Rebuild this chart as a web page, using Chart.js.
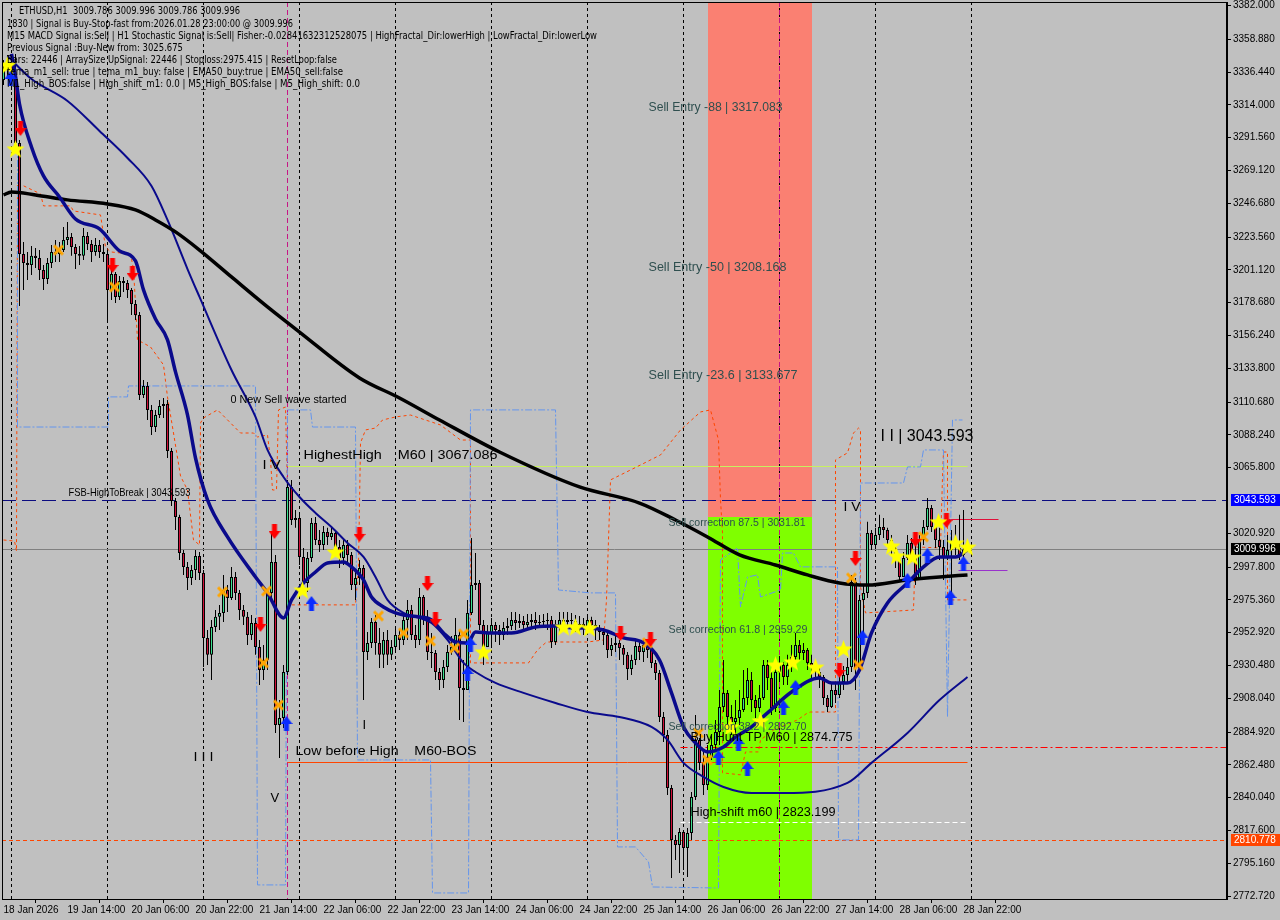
<!DOCTYPE html>
<html>
<head>
<meta charset="utf-8">
<script src="https://cdn.jsdelivr.net/npm/chart.js"></script>
<style>
  body { margin: 0; background: #c0c0c0; }
</style>
</head>
<body>
<canvas id="chart" width="1280" height="920"></canvas>
<script>
// ---- ETHUSD H1 candles (bar 0 = 18 Jan 22:00) ----
const firstOpen = 3331.1;
const closes = [
  3337.9, 3341.3, 3334.5, 3288.0, 3212.0, 3205.8, 3204.5, 3210.7, 3209.3, 3201.1,
  3194.9, 3205.8, 3213.3, 3212.0, 3214.7, 3221.6, 3223.6, 3216.8, 3212.0, 3210.7,
  3224.3, 3218.8, 3213.3, 3218.2, 3213.3, 3212.0, 3187.4, 3198.3, 3182.6, 3193.5,
  3192.2, 3187.4, 3177.8, 3170.3, 3115.5, 3121.7, 3105.3, 3093.6, 3101.8, 3108.0,
  3109.4, 3077.2, 3043.0, 3032.1, 3007.4, 2997.9, 2990.3, 2995.8, 3005.4, 2993.7,
  2949.3, 2937.7, 2956.8, 2963.7, 2966.4, 2982.1, 2976.6, 2991.0, 2980.1, 2968.4,
  2963.7, 2951.3, 2959.5, 2943.1, 2927.4, 2934.2, 2980.1, 3001.3, 2889.7, 2894.5,
  2926.0, 3052.6, 3030.0, 3031.4, 3004.7, 2986.9, 3004.0, 3028.0, 3016.3, 3012.9,
  3021.8, 3018.4, 3021.1, 3011.5, 3004.0, 3012.9, 3006.1, 2985.5, 2990.3, 2997.2,
  2939.7, 2945.9, 2960.2, 2945.9, 2937.7, 2947.9, 2937.7, 2943.1, 2951.3, 2947.9,
  2961.6, 2968.4, 2951.3, 2947.9, 2977.3, 2963.7, 2939.7, 2939.0, 2926.0, 2920.5,
  2929.4, 2939.7, 2943.1, 2951.3, 2915.1, 2913.7, 2966.4, 2985.5, 2986.9, 2958.2,
  2943.1, 2952.7, 2958.2, 2954.7, 2951.3, 2956.1, 2957.5, 2961.6, 2959.5, 2960.9,
  2958.2, 2960.2, 2961.6, 2959.5, 2960.2, 2960.9, 2961.6, 2946.5, 2957.5, 2961.6,
  2960.2, 2961.6, 2960.9, 2958.2, 2958.9, 2956.8, 2961.6, 2958.2, 2954.7, 2953.4,
  2951.3, 2941.1, 2944.5, 2945.9, 2942.4, 2937.7, 2928.1, 2934.2, 2943.8, 2939.7,
  2944.5, 2941.1, 2932.2, 2925.3, 2895.2, 2882.9, 2846.7, 2811.1, 2807.6, 2816.5,
  2805.6, 2815.9, 2840.5, 2879.5, 2863.8, 2848.7, 2867.9, 2876.1, 2885.0, 2902.1,
  2911.7, 2895.2, 2891.8, 2894.5, 2900.0, 2908.2, 2920.5, 2906.8, 2901.4, 2908.2,
  2930.8, 2921.9, 2901.4, 2926.0, 2930.8, 2922.6, 2930.8, 2936.3, 2944.5, 2939.0,
  2941.1, 2932.2, 2929.4, 2926.0, 2922.6, 2908.2, 2902.1, 2913.7, 2910.3, 2919.2,
  2924.0, 2929.4, 2987.6, 2928.8, 2975.3, 2980.1, 3021.1, 3012.9, 3019.8, 3025.2,
  3023.2, 3016.3, 3010.9, 3002.6, 2991.0, 3004.0, 3014.3, 3006.1, 2989.0, 3016.3,
  3025.2, 3038.2, 3025.2, 3016.3, 3011.5, 3004.7, 3009.5, 3015.0, 3010.9, 3006.1,
  3009.786, 3009.996
];
const highs = [
  3344.7, 3348.2, 3346.1, 3348.9, 3290.0, 3220.2, 3213.3, 3217.5, 3216.1, 3214.7,
  3204.5, 3209.3, 3218.2, 3221.6, 3220.2, 3230.5, 3233.9, 3226.4, 3218.8, 3217.5,
  3229.8, 3227.1, 3221.6, 3222.9, 3221.6, 3218.8, 3214.7, 3202.4, 3199.7, 3196.9,
  3196.3, 3194.2, 3188.7, 3180.5, 3172.3, 3125.8, 3124.4, 3108.7, 3105.3, 3112.1,
  3113.5, 3112.1, 3079.3, 3045.1, 3033.5, 3009.5, 3001.3, 2999.2, 3009.5, 3008.1,
  2995.8, 2954.7, 2961.6, 2968.4, 2971.9, 2992.4, 2985.5, 2997.9, 2994.4, 2982.1,
  2971.9, 2967.1, 2965.0, 2963.0, 2947.9, 2944.5, 2982.1, 3021.1, 3006.1, 2906.8,
  2930.8, 3057.4, 3057.4, 3036.9, 3035.5, 3010.9, 3008.1, 3031.4, 3032.1, 3023.2,
  3025.9, 3024.6, 3024.6, 3021.8, 3016.3, 3016.3, 3016.3, 3008.1, 2995.8, 3002.6,
  2999.2, 2953.4, 2963.0, 2965.0, 2956.1, 2953.4, 2954.7, 2947.9, 2956.1, 2954.7,
  2967.1, 2975.3, 2971.9, 2958.2, 2983.5, 2978.7, 2968.4, 2952.7, 2941.1, 2928.8,
  2934.2, 2944.5, 2950.6, 2963.0, 2954.7, 2934.2, 2975.3, 3017.7, 3007.4, 2989.0,
  2961.6, 2958.2, 2963.0, 2960.2, 2958.2, 2960.2, 2963.0, 2967.1, 2967.1, 2965.7,
  2964.3, 2965.7, 2965.7, 2967.1, 2965.0, 2965.7, 2966.4, 2964.3, 2961.6, 2967.1,
  2967.1, 2967.1, 2966.4, 2965.0, 2964.3, 2963.0, 2965.0, 2963.7, 2961.6, 2958.2,
  2956.1, 2953.4, 2949.3, 2950.6, 2947.9, 2944.5, 2939.7, 2937.7, 2947.9, 2946.5,
  2947.9, 2945.9, 2942.4, 2934.2, 2927.4, 2898.6, 2886.3, 2848.7, 2814.5, 2819.3,
  2817.9, 2819.3, 2843.9, 2896.6, 2880.9, 2871.3, 2876.1, 2882.9, 2893.2, 2913.7,
  2934.2, 2913.7, 2903.4, 2906.8, 2913.7, 2927.4, 2928.8, 2926.0, 2910.3, 2917.1,
  2934.2, 2934.2, 2926.0, 2930.8, 2935.6, 2932.9, 2937.7, 2944.5, 2952.7, 2947.9,
  2945.9, 2942.4, 2937.7, 2932.9, 2928.8, 2924.0, 2910.3, 2918.5, 2919.2, 2923.3,
  2930.1, 2935.6, 2992.4, 2990.3, 2978.7, 2985.5, 3028.7, 3023.2, 3024.6, 3033.5,
  3031.4, 3024.6, 3019.8, 3012.9, 3006.1, 3008.1, 3019.8, 3017.7, 3015.0, 3019.8,
  3030.0, 3045.1, 3040.3, 3030.0, 3024.6, 3016.3, 3019.8, 3023.2, 3026.6, 3033.5,
  3036.9, 3009.996
];
const lows = [
  3327.6, 3332.4, 3324.2, 3286.6, 3176.4, 3187.4, 3194.2, 3197.6, 3202.4, 3194.2,
  3187.4, 3191.5, 3202.4, 3206.5, 3206.5, 3213.3, 3218.2, 3210.7, 3201.7, 3204.5,
  3207.9, 3214.7, 3206.5, 3210.7, 3209.3, 3206.5, 3165.5, 3180.5, 3178.5, 3180.5,
  3186.0, 3181.9, 3170.3, 3166.9, 3112.1, 3113.5, 3098.4, 3088.2, 3090.2, 3099.8,
  3099.8, 3072.4, 3039.6, 3023.2, 3002.6, 2992.4, 2982.1, 2985.5, 2989.0, 2989.0,
  2929.4, 2930.8, 2920.5, 2953.4, 2954.7, 2960.2, 2967.1, 2975.3, 2975.3, 2961.6,
  2958.2, 2944.5, 2947.9, 2937.7, 2917.1, 2920.5, 2927.4, 2976.6, 2884.3, 2867.2,
  2887.7, 2924.0, 3026.6, 3024.6, 2999.2, 2982.1, 2980.8, 3001.3, 3012.9, 3008.1,
  3009.5, 3012.9, 3016.3, 3006.1, 2997.2, 2999.2, 3001.3, 2982.1, 2975.3, 2985.5,
  2906.8, 2934.2, 2942.4, 2937.7, 2928.8, 2928.8, 2930.8, 2934.2, 2939.7, 2941.1,
  2944.5, 2947.9, 2947.9, 2942.4, 2944.5, 2958.2, 2934.2, 2928.8, 2920.5, 2913.7,
  2915.1, 2926.0, 2937.7, 2941.1, 2893.2, 2891.8, 2913.7, 2965.0, 2982.1, 2954.7,
  2930.8, 2944.5, 2942.4, 2946.5, 2944.5, 2947.9, 2951.3, 2954.7, 2954.7, 2956.1,
  2953.4, 2954.7, 2956.1, 2954.7, 2956.1, 2956.8, 2954.7, 2942.4, 2944.5, 2953.4,
  2954.7, 2956.1, 2954.7, 2953.4, 2953.4, 2951.3, 2954.7, 2953.4, 2947.9, 2947.9,
  2944.5, 2935.6, 2937.0, 2939.7, 2934.2, 2930.8, 2920.5, 2924.0, 2930.8, 2934.2,
  2932.9, 2935.6, 2928.8, 2920.5, 2891.8, 2878.1, 2841.9, 2785.0, 2797.4, 2788.5,
  2790.5, 2785.7, 2811.1, 2838.4, 2859.0, 2841.9, 2845.3, 2865.8, 2872.6, 2876.1,
  2898.6, 2886.3, 2882.9, 2882.9, 2889.7, 2898.6, 2903.4, 2898.6, 2894.5, 2898.6,
  2906.8, 2913.7, 2896.6, 2898.6, 2920.5, 2917.1, 2917.1, 2926.0, 2930.8, 2934.2,
  2934.2, 2927.4, 2921.9, 2920.5, 2915.1, 2903.4, 2898.6, 2901.4, 2904.8, 2908.2,
  2913.7, 2919.2, 2926.0, 2913.7, 2926.0, 2947.9, 2976.6, 3009.5, 3010.9, 3016.3,
  3017.7, 3012.9, 3006.1, 2997.2, 2989.0, 2992.4, 3002.6, 3001.3, 2985.5, 2989.0,
  3012.9, 3023.2, 3021.8, 3010.9, 3002.6, 2989.0, 3002.6, 2975.3, 3006.1, 3002.6,
  3004.0, 3009.786
];

// moving averages [bar, price]
const ma200 = [[0,3252.4],[2,3254.4],[8,3252.4],[16,3249.0],[26,3246.2],[33,3242.1],[38,3235.3],[43,3227.1],
  [49,3214.7],[57,3196.3],[66,3175.8],[74,3158.6],[89,3127.2],[99,3113.5],[109,3098.4],[124,3076.5],
  [144,3052.6],[159,3041.6],[168,3030.0],[176,3018.4],[184,3006.1],[193,2999.2],[201,2992.4],
  [209,2986.9],[216,2985.5],[226,2989.0],[234,2991.0],[241,2992.4]];
const maFast = [[2,3348.9],[3,3333.8],[4,3314.6],[7,3285.2],[10,3265.4],[14,3251.0],[18,3235.9],[24,3229.1],
  [29,3214.1],[33,3207.2],[35,3187.4],[38,3167.5],[41,3153.2],[43,3131.3],[46,3101.9],[48,3072.4],
  [51,3043.7],[56,3018.4],[63,2991.0],[66,2980.1],[70,2963.0],[72,2975.3],[75,2986.9],[78,2994.4],
  [81,3000.6],[85,3001.3],[87,2997.9],[90,2989.0],[92,2977.3],[95,2970.5],[98,2966.4],[100,2965.0],
  [104,2963.7],[107,2961.6],[110,2952.7],[113,2946.5],[116,2945.9],[118,2953.4],[122,2952.7],
  [127,2952.7],[133,2956.8],[138,2957.5],[143,2956.1],[146,2956.1],[150,2954.7],[155,2949.3],
  [160,2945.9],[164,2934.2],[167,2911.7],[170,2888.4],[173,2877.4],[176,2871.3],[180,2874.7],
  [183,2881.5],[187,2888.4],[191,2898.0],[197,2912.3],[204,2921.9],[207,2918.5],[211,2918.5],
  [214,2927.4],[217,2952.7],[221,2973.2],[226,2986.9],[230,2997.9],[234,3004.7],[238,3004.7],[241,3009.5]];
const maSlow = [[1,3347.5],[7,3331.7],[16,3316.7],[24,3296.2],[31,3277.7],[37,3258.5],[41,3235.3],[46,3201.7],
  [49,3182.6],[57,3132.6],[63,3100.5],[66,3077.9],[70,3059.4],[74,3045.7],[78,3034.8],[82,3025.2],
  [86,3014.3],[90,3004.7],[93,2991.0],[96,2975.3],[100,2966.4],[104,2963.0],[107,2959.5],[111,2947.9],
  [115,2932.2],[118,2926.0],[123,2918.5],[130,2911.7],[138,2904.8],[146,2898.6],[154,2895.2],
  [162,2888.4],[166,2879.5],[170,2863.8],[175,2854.2],[180,2847.3],[187,2843.2],[195,2843.2],
  [211,2850.1],[217,2863.8],[226,2884.3],[234,2906.8],[241,2922.6]];

// fractal channel step lines [bar, price]
const upperBand = [[0,3016.3],[2.75,3015.6],[3.25,3008.8],[3.5,3260.6],[9.25,3253.1],[10,3244.9],[16.75,3244.9],
  [17.5,3241.4],[24.25,3238.7],[25.5,3216.8],[26.75,3213.4],[31.75,3212.0],[32.5,3201.7],[33.5,3153.2],
  [36.75,3148.4],[40,3136.1],[41,3114.2],[42.5,3089.5],[44.25,3060.1],[46,3050.5],[47.5,3016.3],
  [49,3012.9],[49.25,3096.4],[50,3099.8],[53.5,3105.3],[56.75,3096.4],[59.25,3089.5],[62.5,3089.5],
  [63.5,3086.8],[66,3088.2],[66.75,3071.1],[67.25,3050.5],[68.25,3050.5],[68.75,3105.3],[70.5,3107.3],
  [71,3050.5],[71.25,2971.9],[88,2971.9],[88.75,2997.9],[89.25,3082.7],[90.5,3091.6],[93,3092.9],
  [94.75,3098.4],[98,3100.5],[101.75,3101.8],[109.25,3095.0],[114.25,3084.7],[116.75,3084.7],
  [116.75,2932.2],[131.25,2932.2],[133.5,2941.1],[135.5,2945.9],[136.25,2946.5],[146,2946.5],
  [150,2947.9],[150.75,2975.3],[151.75,3057.4],[156.75,3064.2],[164.25,3074.5],[169.25,3091.6],
  [174.25,3103.9],[176.75,3105.3],[178.75,3084.7],[179.25,3043.7],[179.75,3021.1],[179.75,2857.0],
  [184.25,2855.6],[185.5,2871.3],[188.75,2871.3],[189.25,2879.5],[192.5,2886.3],[198.5,2893.2],
  [201,2898.0],[201.75,2898.6],[208,2898.6],[208,3071.1],[211,3075.9],[212.5,3089.5],[213.75,3092.9],
  [214.25,3091.6],[214.25,2984.2],[215.5,2966.4],[227.5,2968.4],[228,3011.5],[234.25,3010.9],
  [234.75,3059.4],[235,3076.5],[236,3076.5],[236,2975.3],[241,2975.3]];
const lowerBand = [[3.5,3285.2],[3.5,3093.6],[26.25,3093.6],[26.25,3114.2],[31,3114.2],[31.25,3121.7],
  [63,3121.7],[63.5,2780.3],[70.5,2780.3],[71,3105.3],[76.75,3105.3],[77.25,3093.6],[88,3093.6],
  [88.5,2865.8],[106.75,2865.8],[107.25,2774.8],[116.25,2774.8],[116.75,3105.3],[138,3105.3],
  [138.75,2982.1],[146.75,2980.1],[153,2980.1],[153.5,2806.3],[158,2806.3],[161.25,2796.0],
  [162.25,2778.9],[178.75,2778.2],[179.25,3002.6],[183.5,3010.9],[184.25,2970.5],[186,2991.0],
  [188.5,2992.4],[189.25,2977.3],[194.25,2982.1],[194.75,3007.4],[197.5,3007.4],[199.25,2997.9],
  [208.5,2997.9],[208.75,2811.1],[213.75,2811.1],[214.25,3055.3],[225,3055.3],[226,3066.3],
  [229.25,3066.3],[230,3077.9],[235,3077.9],[236,2895.2],[237.25,3098.4],[239.75,3098.4]];

// signal markers [bar, price]
const starPts = [[1,3341.3],[3,3283.9],[74.75,2982.1],[83,3008.1],[120,2939.7],[140,2956.8],[143,2956.8],
  [146.5,2956.1],[181.75,2888.4],[189.25,2892.5],[193,2930.8],[197.25,2932.9],[203,2929.4],[210,2941.8],
  [222,3012.2],[223.25,3005.4],[227.25,3004.7],[233.75,3028.7],[238,3014.3],[241,3011.5]];
const crossPts = [[13.75,3214.7],[27.75,3189.4],[54.75,2980.8],[65,2932.2],[65.75,2981.4],[68.75,2903.4],
  [93.75,2964.3],[100,2952.7],[106.75,2947.2],[112.75,2942.4],[115,2952.0],[161,2945.9],[173.75,2884.3],
  [176,2865.8],[212,2990.3],[213.75,2930.8],[230,3018.4]];
const sellPts = [[4.25,3297.5],[27.25,3203.8],[32.25,3198.3],[64.25,2958.2],[67.75,3021.8],[89,3019.8],
  [106,2986.2],[108,2961.6],[154.25,2952.0],[161.75,2947.9],[209,2926.7],[213,3003.3],[228,3016.3],[235.75,3029.3]];
const buyPts = [[1.75,3332.4],[70.75,2891.1],[77,2973.2],[116,2925.3],[116.75,2945.2],[178.75,2867.9],
  [183.75,2877.4],[186,2860.3],[195,2902.1],[198,2915.8],[214.75,2950.0],[226,2989.0],[231,3006.1],
  [236.75,2977.3],[240,3000.6]];

// axes
const xTickBars = [0, 16, 32, 48, 64, 80, 96, 112, 128, 144, 160, 176, 192, 208, 224, 240];
const xLabels = ['18 Jan 2026', '19 Jan 14:00', '20 Jan 06:00', '20 Jan 22:00', '21 Jan 14:00', '22 Jan 06:00',
  '22 Jan 22:00', '23 Jan 14:00', '24 Jan 06:00', '24 Jan 22:00', '25 Jan 14:00', '26 Jan 06:00',
  '26 Jan 22:00', '27 Jan 14:00', '28 Jan 06:00', '28 Jan 22:00'];
const yTicks = [3382.000, 3358.880, 3336.440, 3314.000, 3291.560, 3269.120, 3246.680, 3223.560, 3201.120,
  3178.680, 3156.240, 3133.800, 3110.680, 3088.240, 3065.800, 3020.920, 2997.800, 2975.360, 2952.920,
  2930.480, 2908.040, 2884.920, 2862.480, 2840.040, 2817.600, 2795.160, 2772.720];
const daySeparators = [2, 26, 50, 74, 98, 122, 146, 170, 194, 218, 242];
const markerLines = [71, 194];

// levels
const zone = { from: 176, to: 202, split: 3031.81 };
const levels = {
  fsb: 3043.593, bid: 3009.996, lowLevel: 2810.778, buyTP: 2874.775, highest: 3067.086,
  lowBeforeHigh: 2864.6, highShift: 2823.199, redShort: 3030.7, purpleShort: 2995.8
};

const infoLines = [
  'ETHUSD,H1  3009.786 3009.996 3009.786 3009.996',
  '1830 | Signal is Buy-Stop-fast from:2026.01.28 23:00:00 @ 3009.996',
  'M15 MACD Signal is:Sell | H1 Stochastic Signal is:Sell| Fisher:-0.02841632312528075 | HighFractal_Dir:lowerHigh | LowFractal_Dir:lowerLow',
  'Previous Signal :Buy-New from: 3025.675',
  'Bars: 22446 | ArraySize UpSignal: 22446 | Stoploss:2975.415 | ResetLoop:false',
  'tema_m1_sell: true | tema_m1_buy: false | EMA50_buy:true | EMA50_sell:false',
  'M1_High_BOS:false | High_shift_m1: 0.0 | M5_High_BOS:false | M5_High_shift: 0.0'
];

// ---- marker glyphs ----
function starGlyph() {
  const c = document.createElement('canvas'); c.width = 19; c.height = 19;
  const g = c.getContext('2d'); g.beginPath();
  for (let k = 0; k < 10; k++) {
    const r = k % 2 ? 4 : 9.5, a = -Math.PI / 2 + k * Math.PI / 5;
    g.lineTo(9.5 + r * Math.cos(a), 10.2 + r * Math.sin(a));
  }
  g.closePath(); g.fillStyle = '#ffff00'; g.fill();
  return c;
}
function crossGlyph() {
  const c = document.createElement('canvas'); c.width = 13; c.height = 13;
  const g = c.getContext('2d'); g.strokeStyle = '#ffa500'; g.lineWidth = 3;
  g.beginPath(); g.moveTo(2, 2); g.lineTo(11, 11); g.moveTo(11, 2); g.lineTo(2, 11); g.stroke();
  return c;
}
function arrowGlyph(up, color) {
  const c = document.createElement('canvas'); c.width = 12; c.height = 16;
  const g = c.getContext('2d');
  let p = [[3.5, 0], [8.5, 0], [8.5, 7], [12, 7], [6, 15], [0, 7], [3.5, 7]];
  if (up) p = p.map(([a, b]) => [a, 16 - b]);
  g.beginPath(); p.forEach(([a, b]) => g.lineTo(a, b)); g.closePath();
  g.fillStyle = color; g.fill();
  return c;
}

const pts = arr => arr.map(([a, b]) => ({ x: a, y: b }));
const opens = closes.map((c, i) => i === 0 ? firstOpen : closes[i - 1]);
const wickData = closes.map((c, i) => ({ x: i, y: [lows[i], highs[i]] }));
const bodyData = closes.map((c, i) => ({ x: i, y: [opens[i], c] }));
const bodyColors = closes.map((c, i) => c >= opens[i] ? '#3ce08f' : '#d0103a');

const AXIS_FONT = { family: "'Liberation Sans', Arial, sans-serif", size: 10 };

function fitText(ctx, s, x, yc, w, size, color, family) {
  ctx.save();
  ctx.font = size + 'px ' + (family || "'Liberation Sans', Arial, sans-serif");
  ctx.fillStyle = color; ctx.textBaseline = 'middle'; ctx.textAlign = 'left';
  const m = ctx.measureText(s).width;
  ctx.translate(x, yc);
  if (w) ctx.scale(w / m, 1);
  ctx.fillText(s, 0, 0);
  ctx.restore();
}

function hline(ctx, y, x0, x1, color, dash, width) {
  ctx.save(); ctx.strokeStyle = color; ctx.lineWidth = width || 1; ctx.setLineDash(dash || []);
  const py = Math.round(y) + 0.5;
  ctx.beginPath(); ctx.moveTo(x0, py); ctx.lineTo(x1, py); ctx.stroke(); ctx.restore();
}
function vline(ctx, x, y0, y1, color, dash) {
  ctx.save(); ctx.strokeStyle = color; ctx.lineWidth = 1; ctx.setLineDash(dash || []);
  const px = Math.round(x) + 0.5;
  ctx.beginPath(); ctx.moveTo(px, y0); ctx.lineTo(px, y1); ctx.stroke(); ctx.restore();
}

const overlay = {
  id: 'overlay',
  beforeDraw(chart) {
    const c = chart.ctx;
    c.save(); c.fillStyle = '#c0c0c0'; c.fillRect(0, 0, chart.width, chart.height); c.restore();
  },
  beforeDatasetsDraw(chart) {
    const { ctx, chartArea: a, scales: { x, y } } = chart;
    ctx.save();
    ctx.beginPath(); ctx.rect(a.left, a.top, a.right - a.left, a.bottom - a.top); ctx.clip();
    const zx0 = Math.round(x.getPixelForValue(zone.from)), zx1 = Math.round(x.getPixelForValue(zone.to));
    const zy = Math.round(y.getPixelForValue(zone.split));
    ctx.fillStyle = '#fa8072'; ctx.fillRect(zx0, a.top, zx1 - zx0, zy - a.top);
    ctx.fillStyle = '#7fff00'; ctx.fillRect(zx0, zy, zx1 - zx0, a.bottom - zy);

    daySeparators.forEach(d => vline(ctx, x.getPixelForValue(d) - 0.5, a.top, a.bottom, '#000', [3, 3]));
    markerLines.forEach(d => vline(ctx, x.getPixelForValue(d) - 0.5, a.top, a.bottom, '#c71585', [5, 3]));

    const X = v => x.getPixelForValue(v), Y = v => y.getPixelForValue(v);
    hline(ctx, Y(levels.bid), a.left, a.right, '#808080');
    hline(ctx, Y(levels.lowLevel), a.left, a.right, '#ff4500', [4, 3]);
    hline(ctx, Y(levels.fsb), a.left, a.right, '#0c0c80', [14, 6]);
    hline(ctx, Y(levels.buyTP), X(169.25), a.right, '#ff0000', [7, 3, 2, 3]);
    hline(ctx, Y(levels.highest), X(71), X(241), '#c8f060');
    hline(ctx, Y(levels.lowBeforeHigh), X(71), X(241), '#ff4500');
    hline(ctx, Y(levels.highShift), X(169.25), X(240.5), '#ffffff', [5, 3]);
    hline(ctx, Y(levels.redShort), X(236.25), X(248.75), '#e0103a');
    hline(ctx, Y(levels.purpleShort), X(238.75), X(251), '#9932cc');
    ctx.restore();
  },
  afterDatasetsDraw(chart) {
    const { ctx, chartArea: a, scales: { x, y } } = chart;
    const X = v => x.getPixelForValue(v), Y = v => y.getPixelForValue(v);
    const slate = '#2f4f4f';
    ctx.save();
    ctx.beginPath(); ctx.rect(a.left, a.top, a.right - a.left, a.bottom - a.top); ctx.clip();
    const notes = [
      ['Sell Entry -88 | 3317.083', 161.25, 3311.9, 134, 12, slate],
      ['Sell Entry -50 | 3208.168', 161.25, 3202.4, 138, 12, slate],
      ['Sell Entry -23.6 | 3133.677', 161.25, 3128.5, 149, 12, slate],
      ['Sell correction 87.5 | 3031.81', 166.25, 3027.9, 137, 11, slate],
      ['Sell correction 61.8 | 2959.29', 166.25, 2954.7, 139, 11, slate],
      ['Sell correction 38.2 | 2892.70', 166.25, 2888.4, 138, 11, slate],
      ['Buy Hunt TP M60 | 2874.775', 171.75, 2881.5, 162, 13, '#000'],
      ['High-shift m60 | 2823.199', 171.75, 2830.2, 145, 13, '#000'],
      ['Low before High    M60-BOS', 73, 2871.9, 181, 13, '#000'],
      ['HighestHigh    M60 | 3067.086', 75, 3074.5, 194, 13, '#000'],
      ['FSB-HighToBreak | 3043.593', 16.25, 3048.5, 122, 11, '#000'],
      ['0 New Sell wave started', 56.75, 3112.1, 116, 11, '#000'],
      ['I I | 3043.593', 219.25, 3086.8, 93, 16, '#000'],
      ['I V', 64.75, 3067.0, 18, 13, '#000'],
      ['V', 66.75, 2839.8, 0, 13, '#000'],
      ['I I I', 47.5, 2867.2, 20, 13, '#000'],
      ['I V', 210, 3038.9, 17, 13, '#000'],
      ['I', 89.75, 2889.7, 0, 13, '#000']
    ];
    notes.forEach(([s, b, p, w, size, col]) => fitText(ctx, s, X(b), Y(p), w, size, col));

    const infoPos = [[19, 11, 221], [7, 24, 286], [7, 36, 590], [7, 48, 176], [7, 60, 330], [7, 72, 336], [7, 84, 353]];
    infoLines.forEach((s, k) => fitText(ctx, s, infoPos[k][0], infoPos[k][1], infoPos[k][2], 10, '#000',
      "'DejaVu Sans', sans-serif"));
    ctx.restore();

    // frame
    ctx.save(); ctx.strokeStyle = '#000'; ctx.lineWidth = 1;
    ctx.strokeRect(a.left + 0.5, a.top + 0.5, a.right - a.left - 1, a.bottom - a.top);
    ctx.restore();

    // price tags on the axis
    const tags = [[levels.fsb, '#0000ff'], [levels.bid, '#000000'], [levels.lowLevel, '#ff4500']];
    tags.forEach(([p, col]) => {
      const py = Math.round(Y(p));
      ctx.save();
      ctx.fillStyle = col; ctx.fillRect(a.right + 4, py - 6, 49, 12);
      ctx.fillStyle = '#fff'; ctx.font = "10px 'Liberation Sans', Arial, sans-serif";
      ctx.textBaseline = 'middle'; ctx.fillText(p.toFixed(3), a.right + 7, py + 0.5);
      ctx.restore();
    });
  }
};

new Chart(document.getElementById('chart').getContext('2d'), {
  type: 'bar',
  data: {
    datasets: [
      { type: 'line', data: pts(upperBand), borderColor: '#ff4500', borderWidth: 1, borderDash: [3, 3],
        pointRadius: 0, tension: 0, order: 20 },
      { type: 'line', data: pts(lowerBand), borderColor: '#6495ed', borderWidth: 1, borderDash: [7, 2, 2, 2],
        pointRadius: 0, tension: 0, order: 19 },
      { data: wickData, backgroundColor: '#000', borderWidth: 0, barThickness: 1, grouped: false,
        inflateAmount: 0, order: 15 },
      { data: bodyData, backgroundColor: bodyColors, borderColor: '#000', borderWidth: 1, borderSkipped: false,
        barThickness: 3, grouped: false, inflateAmount: 0, minBarLength: 1, order: 14 },
      { type: 'line', data: pts(maSlow), borderColor: '#0a0a8c', borderWidth: 2, pointRadius: 0,
        cubicInterpolationMode: 'monotone', order: 12 },
      { type: 'line', data: pts(ma200), borderColor: '#000', borderWidth: 3.5, pointRadius: 0,
        cubicInterpolationMode: 'monotone', order: 11 },
      { type: 'line', data: pts(maFast), borderColor: '#0a0a8c', borderWidth: 3.5, pointRadius: 0,
        cubicInterpolationMode: 'monotone', order: 10 },
      { type: 'scatter', data: pts(crossPts), pointStyle: crossGlyph(), order: 4 },
      { type: 'scatter', data: pts(sellPts), pointStyle: arrowGlyph(false, '#ff0000'), order: 3 },
      { type: 'scatter', data: pts(buyPts), pointStyle: arrowGlyph(true, '#0a2cff'), order: 2 },
      { type: 'scatter', data: pts(starPts), pointStyle: starGlyph(), order: 1 }
    ]
  },
  options: {
    responsive: false,
    animation: false,
    devicePixelRatio: 1,
    layout: { autoPadding: false, padding: { left: 2, top: 2, right: 0, bottom: 0 } },
    plugins: { legend: { display: false }, tooltip: { enabled: false } },
    scales: {
      x: {
        type: 'linear', min: -0.375, max: 305.875, offset: false,
        afterBuildTicks: s => { s.ticks = xTickBars.map(v => ({ value: v })); },
        afterFit: s => { s.height = 21; s.paddingLeft = 0; s.paddingRight = 0; },
        ticks: { autoSkip: false, maxRotation: 0, minRotation: 0, align: 'start', padding: 1,
          color: '#000', font: AXIS_FONT, callback: (v, i) => xLabels[i] },
        grid: { drawOnChartArea: false, drawTicks: true, tickLength: 4, color: '#000' },
        border: { display: true, color: '#000' }
      },
      y: {
        type: 'linear', position: 'right', min: 2770.67, max: 3384.395,
        afterBuildTicks: s => { s.ticks = yTicks.map(v => ({ value: v })); },
        afterFit: s => { s.width = 53; s.paddingTop = 0; s.paddingBottom = 0; },
        ticks: { padding: 2, color: '#000', font: AXIS_FONT, callback: v => v.toFixed(3) },
        grid: { drawOnChartArea: false, drawTicks: true, tickLength: 4, color: '#000' },
        border: { display: true, color: '#000' }
      }
    }
  },
  plugins: [overlay]
});
</script>
</body>
</html>
